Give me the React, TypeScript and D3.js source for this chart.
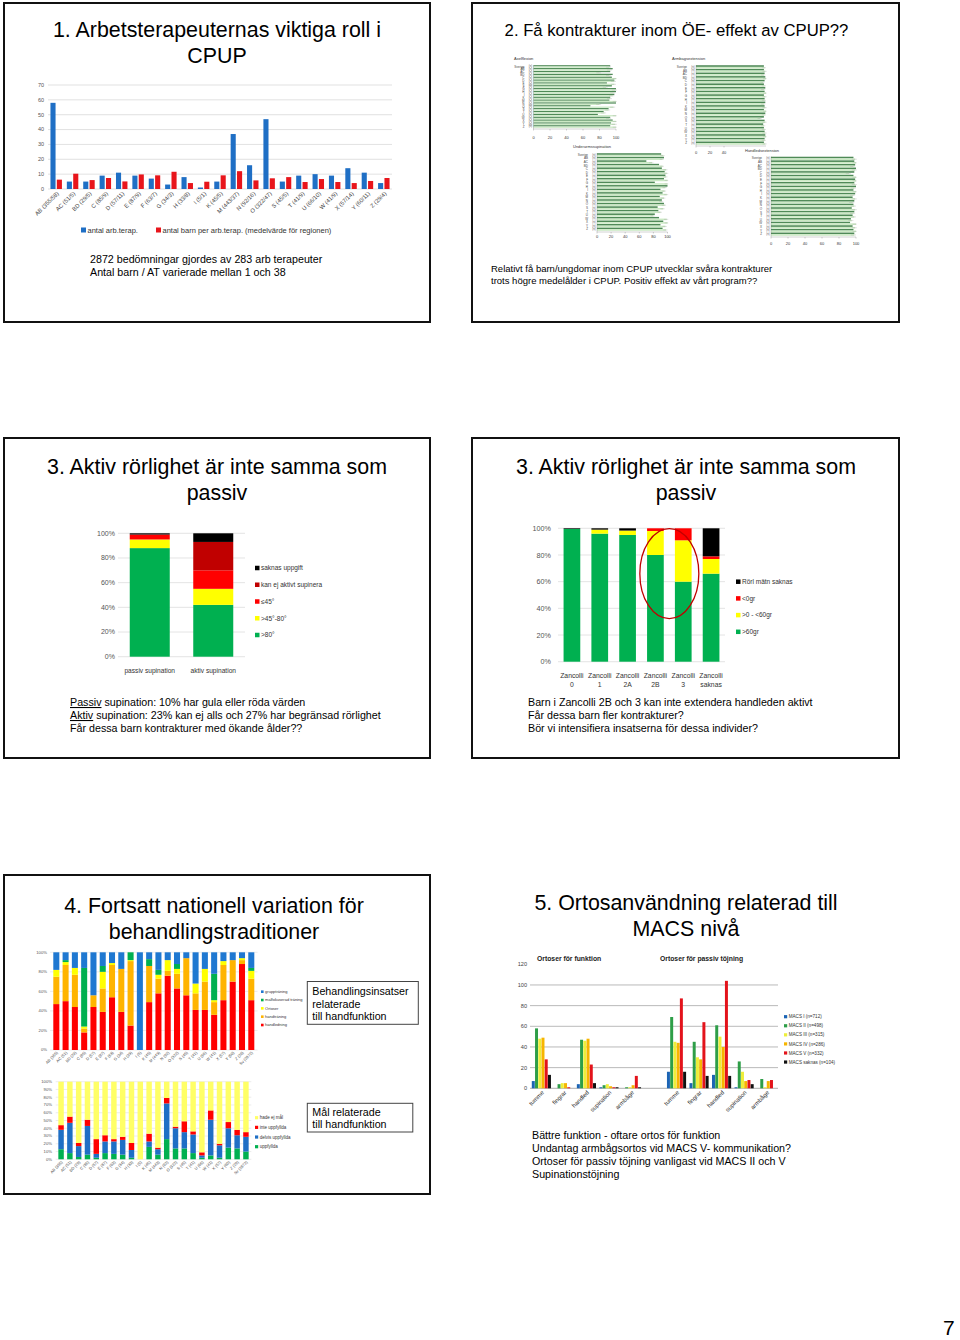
import React from "react";
import * as d3 from "d3";

const SANS = "'Liberation Sans', Arial, Helvetica, sans-serif";

// ---------------- Panel 1 data ----------------
const p1Regions = ["AB (355/58)", "AC (51/5)", "BD (29/5)", "C (85/9)", "D (57/11)", "E (87/9)", "F (63/7)", "G (34/3)", "H (33/8)", "I (5/1)", "K (45/5)", "M (443/37)", "N (92/16)", "O (322/47)", "S (45/5)", "T (41/9)", "U (66/10)", "W (41/9)", "X (57/14)", "Y (60/11)", "Z (29/4)"];
const p1Therapists = [58, 5, 5, 9, 11, 9, 7, 3, 8, 1, 5, 37, 16, 47, 5, 9, 10, 9, 14, 11, 4];
const p1ChildrenPerTherapist = [6.3, 10.3, 6, 7.4, 5.1, 9.8, 9.2, 11.6, 4, 4.9, 9.2, 12, 5.8, 7.2, 8, 4.7, 6.7, 4.7, 4, 5.4, 7.4];
const p1Ticks = [0, 10, 20, 30, 40, 50, 60, 70];
const p1SeriesNames = ["antal arb.terap.", "antal barn per arb.terap. (medelvärde för regionen)"];
const p1Colors = ["#1F6FC5", "#E8151B"];

// ---------------- Panel 2 data ----------------
const p2Rows = ["Sverige", "AB", "AC", "BD", "C", "D", "E", "F", "G", "H", "I", "K", "M", "N", "O", "S", "T", "U", "W", "X", "Y", "Z"];
const p2Ticks = [0, 20, 40, 60, 80, 100];
const p2ArmbTicks = [0, 20, 40];
const p2AxelDark = [93, 96, 93, 96, 95, 98, 89, 95, 100, 100, 98, 93, 92, 100, 69, 91, 85, 78, 93, 96, 94, 93];
const p2AxelLight = [92, 93, 80, 92, 100, 98, 98, 88, 99, 97, 96, 93, 100, 80, 97, 91, 86, 100, 92, 100, 99, 100];
const p2ArmbDark = [97, 97, 98, 99, 98, 97, 99, 98, 97, 98, 99, 98, 97, 99, 97, 98, 96, 97, 98, 99, 98, 97];
const p2ArmbLight = [98, 99, 97, 100, 96, 98, 97, 100, 99, 98, 97, 99, 100, 98, 92, 99, 97, 98, 99, 100, 98, 99];
const p2SupDark = [91, 95, 70, 88, 92, 96, 97, 95, 82, 100, 90, 93, 89, 92, 95, 86, 87, 82, 88, 94, 90, 93];
const p2SupLight = [94, 93, 78, 93, 98, 99, 98, 100, 100, 97, 96, 99, 95, 92, 96, 94, 90, 80, 99, 100, 97, 98];
const p2HandDark = [97, 98, 99, 100, 98, 97, 99, 98, 100, 97, 99, 96, 98, 97, 95, 98, 96, 94, 93, 96, 97, 98];
const p2HandLight = [99, 100, 97, 99, 92, 100, 100, 99, 98, 100, 97, 99, 96, 98, 99, 97, 98, 95, 100, 99, 100, 98];
const p2Colors = ["#4F8A57", "#CBE9C4"];

// ---------------- Panel 3 (left) data ----------------
const p3lCats = ["passiv supination", "aktiv supination"];
const p3lOver80 = [88, 42];
const p3l45to80 = [7, 13];
const p3lUnder45 = [4, 15];
const p3lKanEj = [0, 23];
const p3lSaknas = [1, 7];
const p3lLegend = ["saknas uppgift", "kan ej aktivt supinera", "≤45°", ">45°-80°", ">80°"];
const p3lColors = ["#00B050", "#FFFF00", "#FF0000", "#C00000", "#000000"];
const pctTicks20 = [0, 20, 40, 60, 80, 100];

// ---------------- Panel 3 (right) data ----------------
const p3rCats = ["Zancolli 0", "Zancolli 1", "Zancolli 2A", "Zancolli 2B", "Zancolli 3", "Zancolli saknas"];
const p3rOver60 = [99.5, 96, 95, 80, 60, 66];
const p3r0to60 = [0, 3, 3.3, 18, 31, 11];
const p3rUnder0 = [0, 0, 0, 2, 9, 2];
const p3rSaknas = [0.5, 1, 1.7, 0, 0, 21];
const p3rLegend = ["Rörl mätn saknas", "<0gr", ">0 - <60gr", ">60gr"];
const p3rColors = ["#00B050", "#FFFF00", "#FF0000", "#000000"];

// ---------------- Panel 4 data ----------------
const p4Regions = ["AB (355)", "AC (51)", "BD (29)", "C (85)", "D (57)", "E (87)", "F (63)", "G (34)", "H (33)", "I (5)", "K (45)", "M (443)", "N (92)", "O (322)", "S (45)", "T (41)", "U (66)", "W (41)", "X (57)", "Y (60)", "Z (29)", "Sv (2872)"];
const p4Handledning = [47, 50, 44, 18, 44, 39, 54, 39, 25, 0, 49, 58, 76, 63, 56, 41, 41, 36, 51, 70, 88, 51];
const p4Handtraning = [28, 37, 33, 4, 12, 24, 33, 44, 66, 0, 37, 15, 5, 15, 38, 17, 29, 13, 36, 22, 4, 22];
const p4Ortoser = [7, 3, 7, 2, 0, 17, 2, 0, 1, 0, 0, 4, 11, 5, 0, 10, 13, 2, 4, 0, 2, 8];
const p4Malfokus = [0, 2, 0, 60, 0, 6, 0, 0, 8, 0, 7, 5, 0, 5, 0, 0, 0, 27, 0, 0, 0, 3];
const p4Grupp = [18, 8, 16, 16, 44, 14, 11, 17, 0, 100, 7, 18, 8, 12, 6, 32, 17, 22, 9, 8, 6, 16];
const p4TopLegend = ["gruppträning", "målfokuserad träning", "Ortoser", "handträning", "handledning"];
const p4TopColors = ["#FF0000", "#FFB400", "#FFFF00", "#00B050", "#1F78D1"];

const p4Uppfyllda = [13, 8, 3, 6, 2, 8, 7, 6, 2, 0, 16, 6, 26, 14, 14, 8, 2, 5, 2, 15, 14, 10];
const p4Delvis = [25, 39, 14, 37, 5, 15, 16, 19, 10, 0, 7, 7, 46, 26, 21, 24, 3, 46, 16, 25, 17, 19];
const p4Inte = [6, 8, 4, 8, 19, 8, 3, 4, 9, 0, 10, 2, 7, 2, 14, 4, 4, 12, 2, 8, 7, 6];
const p4EjMal = [56, 45, 79, 49, 74, 69, 74, 71, 79, 100, 67, 85, 21, 58, 51, 64, 91, 37, 80, 52, 62, 65];
const p4BotLegend = ["hade ej mål", "inte uppfyllda", "delvis uppfyllda", "uppfyllda"];
const p4BotColors = ["#00B050", "#1F6FC5", "#FF0000", "#FFFF66"];
const pctTicks10 = [0, 10, 20, 30, 40, 50, 60, 70, 80, 90, 100];

// ---------------- Panel 5 data ----------------
const p5Types = ["tumme", "fingrar", "handled", "supination", "armbåge"];
const p5Groups = ["Ortoser för funktion", "Ortoser för passiv töjning"];
const p5Levels = ["MACS I (n=712)", "MACS II (n=498)", "MACS III (n=315)", "MACS IV (n=286)", "MACS V (n=332)", "MACS saknas (n=104)"];
// first 5 = funktion, last 5 = passiv töjning
const p5MacsI = [7, 0, 4, 1, 0, 16, 5, 13, 1, 0];
const p5MacsII = [58, 4, 47, 3, 1, 69, 45, 61, 26, 9];
const p5MacsIII = [48, 5, 46, 4, 1, 45, 30, 50, 16, 1];
const p5MacsIV = [49, 5, 48, 2, 3, 44, 28, 40, 7, 7];
const p5MacsV = [28, 1, 23, 1, 12, 87, 64, 104, 8, 8];
const p5MacsSaknas = [13, 0, 5, 1, 1, 16, 12, 12, 4, 0];
const p5Ticks = [0, 20, 40, 60, 80, 100, 120];
const p5Colors = ["#1C64B4", "#2E9E48", "#EEEE3A", "#F7B500", "#E3131B", "#111111"];

// ---------------- helpers ----------------
type StackProps = {
  cats: string[];
  series: number[][];
  colors: string[];
  x0: number; x1: number; yTop: number; yBot: number;
  padInner: number; padOuter: number;
  ticks: number[]; tickX: number; tickFont: number;
  grid?: string;
};

function StackedPct(p: StackProps) {
  const x = d3.scaleBand<string>().domain(p.cats).range([p.x0, p.x1]).paddingInner(p.padInner).paddingOuter(p.padOuter);
  const y = d3.scaleLinear().domain([0, 100]).range([p.yBot, p.yTop]);
  const keys = p.series.map((_, k) => "k" + k);
  const rows = p.cats.map((c, i) => {
    const o: any = { cat: c };
    p.series.forEach((s, k) => (o["k" + k] = s[i]));
    return o;
  });
  const layers = d3.stack<any>().keys(keys)(rows);
  return (
    <g>
      {p.grid && p.ticks.map((t) => (
        <line key={"g" + t} x1={p.x0} x2={p.x1} y1={y(t)} y2={y(t)} stroke={p.grid} strokeWidth={0.7} />
      ))}
      {layers.map((layer, k) =>
        layer.map((d, i) => (
          <rect key={k + "-" + i} x={x(p.cats[i])} width={x.bandwidth()} y={y(d[1])}
            height={Math.max(0, y(d[0]) - y(d[1]))} fill={p.colors[k]} />
        ))
      )}
      {p.ticks.map((t) => (
        <text key={"t" + t} x={p.tickX} y={y(t)} dy="0.35em" textAnchor="end" fontSize={p.tickFont} fill="#555">{t}%</text>
      ))}
    </g>
  );
}

function Legend({ items, colors, x, y0, step, size, font }: { items: string[]; colors: string[]; x: number; y0: number; step: number; size: number; font: number }) {
  return (
    <g>
      {items.map((it, i) => (
        <g key={it}>
          <rect x={x} y={y0 + i * step - size / 2} width={size} height={size} fill={colors[i]} />
          <text x={x + size + 1.5} y={y0 + i * step} dy="0.35em" fontSize={font} fill="#333">{it}</text>
        </g>
      ))}
    </g>
  );
}

// ---------------- Panel 1 ----------------
function Panel1() {
  const x = d3.scaleBand<string>().domain(p1Regions).range([48, 392]).paddingInner(0.3).paddingOuter(0.15);
  const sub = d3.scaleBand<number>().domain([0, 1]).range([0, x.bandwidth()]).paddingInner(0.2);
  const y = d3.scaleLinear().domain([0, 70]).range([189, 85]);
  const series = [p1Therapists, p1ChildrenPerTherapist];
  return (
    <g>
      <text x={217} y={37} textAnchor="middle" fontSize={21.4}>1. Arbetsterapeuternas viktiga roll i</text>
      <text x={217} y={63} textAnchor="middle" fontSize={21.4}>CPUP</text>
      {p1Ticks.map((t) => (
        <g key={t}>
          <line x1={48} x2={392} y1={y(t)} y2={y(t)} stroke="#D9D9D9" strokeWidth={0.8} />
          <text x={44} y={y(t)} dy="0.35em" textAnchor="end" fontSize={5.5} fill="#555">{t}</text>
        </g>
      ))}
      {series.map((s, k) =>
        s.map((v, i) => (
          <rect key={k + "-" + i} x={(x(p1Regions[i]) as number) + (sub(k) as number)} width={sub.bandwidth()}
            y={y(v)} height={y(0) - y(v)} fill={p1Colors[k]} />
        ))
      )}
      {p1Regions.map((r) => (
        <text key={r} transform={`translate(${(x(r) as number) + x.bandwidth() / 2 + 3},${194}) rotate(-45)`}
          textAnchor="end" fontSize={5.8} fill="#444">{r}</text>
      ))}
      <rect x={81} y={227.5} width={5} height={5} fill={p1Colors[0]} />
      <text x={87.5} y={232.5} fontSize={7.5} fill="#333">{p1SeriesNames[0]}</text>
      <rect x={156} y={227.5} width={5} height={5} fill={p1Colors[1]} />
      <text x={162.5} y={232.5} fontSize={7.5} fill="#333">{p1SeriesNames[1]}</text>
      <text x={90} y={263} fontSize={10.7}>2872 bedömningar gjordes av 283 arb terapeuter</text>
      <text x={90} y={276} fontSize={10.7}>Antal barn / AT varierade mellan 1 och 38</text>
    </g>
  );
}

// ---------------- Panel 2 ----------------
function MiniHBar({ title, dark, light, x0, x1, y0, y1, ticks, titleX, titleY, axisY }: any) {
  const y = d3.scaleBand<string>().domain(p2Rows).range([y0, y1]).padding(0.04);
  const sub = d3.scaleBand<number>().domain([0, 1]).range([0, y.bandwidth()]).padding(0.05);
  const x = d3.scaleLinear().domain([0, 100]).range([x0, x1]);
  const vals = [dark, light];
  return (
    <g>
      <text x={titleX} y={titleY} fontSize={4} fill="#333">{title}</text>
      {vals.map((s: number[], k: number) =>
        s.map((v, i) => (
          <rect key={k + "-" + i} x={x(0)} y={(y(p2Rows[i]) as number) + (sub(k) as number)} width={x(v) - x(0)}
            height={sub.bandwidth()} fill={p2Colors[k]} />
        ))
      )}
      {light.map((v: number, i: number) => (
        <line key={"e" + i} x1={x(Math.max(0, v - 4))} x2={x(Math.min(101, v + 2))}
          y1={(y(p2Rows[i]) as number) + (sub(1) as number) + sub.bandwidth() / 2}
          y2={(y(p2Rows[i]) as number) + (sub(1) as number) + sub.bandwidth() / 2} stroke="#999" strokeWidth={0.3} />
      ))}
      {p2Rows.map((r) => (
        <g key={r}>
          <text x={x0 - 9} y={(y(r) as number) + y.bandwidth() / 2} dy="0.35em" textAnchor="end" fontSize={3} fill="#444">{r}</text>
          <text x={x0 - 1.5} y={(y(r) as number) + y.bandwidth() / 2} dy="0.35em" textAnchor="end" fontSize={2.6} fill="#444">(n)</text>
        </g>
      ))}
      <line x1={x0} x2={x1} y1={y1 + 1} y2={y1 + 1} stroke="#666" strokeWidth={0.3} />
      <line x1={x0} x2={x0} y1={y0} y2={y1 + 1} stroke="#666" strokeWidth={0.3} />
      {ticks.map((t: number) => (
        <g key={t}>
          <line x1={x(t)} x2={x(t)} y1={y1 + 1} y2={y1 + 2.5} stroke="#666" strokeWidth={0.3} />
          <text x={x(t)} y={axisY} textAnchor="middle" fontSize={4} fill="#333">{t}</text>
        </g>
      ))}
    </g>
  );
}

function Panel2() {
  return (
    <g>
      <text x={676.5} y={35.5} textAnchor="middle" fontSize={16.7}>2. Få kontrakturer inom ÖE- effekt av CPUP??</text>
      <MiniHBar title={"Axelflexion"} dark={p2AxelDark} light={p2AxelLight} x0={533.5} x1={616} y0={65} y1={128}
        ticks={p2Ticks} titleX={514} titleY={60} axisY={139} />
      <MiniHBar title={"Armbågsextension"} dark={p2ArmbDark} light={p2ArmbLight} x0={696} x1={766} y0={65} y1={145}
        ticks={p2ArmbTicks} titleX={672} titleY={60} axisY={154} />
      <MiniHBar title={"Underarmssupination"} dark={p2SupDark} light={p2SupLight} x0={597} x1={667.5} y0={153} y1={231}
        ticks={p2Ticks} titleX={573} titleY={148} axisY={238} />
      <MiniHBar title={"Handledsextension"} dark={p2HandDark} light={p2HandLight} x0={771} x1={856} y0={156.5} y1={236}
        ticks={p2Ticks} titleX={745} titleY={152} axisY={245} />
      <text x={491} y={271.5} fontSize={9.5}>Relativt få barn/ungdomar  inom CPUP utvecklar  svåra kontrakturer</text>
      <text x={491} y={283.5} fontSize={9.5}>trots högre medelålder  i CPUP. Positiv effekt av vårt program??</text>
    </g>
  );
}

// ---------------- Panel 3 left ----------------
function Panel3L() {
  const x = d3.scaleBand<string>().domain(p3lCats).range([118, 245]).paddingInner(0.37).paddingOuter(0.185);
  return (
    <g>
      <text x={217} y={474} textAnchor="middle" fontSize={21.4}>3. Aktiv rörlighet är inte samma som</text>
      <text x={217} y={499.5} textAnchor="middle" fontSize={21.4}>passiv</text>
      <StackedPct cats={p3lCats} series={[p3lOver80, p3l45to80, p3lUnder45, p3lKanEj, p3lSaknas]} colors={p3lColors}
        x0={118} x1={245} yTop={533.3} yBot={656.7} padInner={0.37} padOuter={0.185}
        ticks={pctTicks20} tickX={115} tickFont={7} grid="#D9D9D9" />
      {p3lCats.map((c) => (
        <text key={c} x={(x(c) as number) + x.bandwidth() / 2} y={673} textAnchor="middle" fontSize={6.6} fill="#333">{c}</text>
      ))}
      <Legend items={p3lLegend} colors={[...p3lColors].reverse()} x={255} y0={568} step={16.75} size={4.5} font={6.5} />
      <text x={70} y={706} fontSize={10.7}><tspan textDecoration="underline">Passiv</tspan> supination: 10% har gula eller röda värden</text>
      <text x={70} y={719} fontSize={10.7}><tspan textDecoration="underline">Aktiv</tspan> supination: 23% kan ej alls och 27% har begränsad rörlighet</text>
      <text x={70} y={732} fontSize={10.7}>Får dessa barn kontrakturer med ökande ålder??</text>
    </g>
  );
}

// ---------------- Panel 3 right ----------------
function Panel3R() {
  const x = d3.scaleBand<string>().domain(p3rCats).range([558, 725]).paddingInner(0.4).paddingOuter(0.2);
  const y = d3.scaleLinear().domain([0, 100]).range([661.7, 528.3]);
  const c2B = (x("Zancolli 2B") as number) + x.bandwidth() / 2;
  const c3 = (x("Zancolli 3") as number) + x.bandwidth() / 2;
  return (
    <g>
      <text x={686} y={474} textAnchor="middle" fontSize={21.4}>3. Aktiv rörlighet är inte samma som</text>
      <text x={686} y={499.5} textAnchor="middle" fontSize={21.4}>passiv</text>
      <StackedPct cats={p3rCats} series={[p3rOver60, p3r0to60, p3rUnder0, p3rSaknas]} colors={p3rColors}
        x0={558} x1={725} yTop={528.3} yBot={661.7} padInner={0.4} padOuter={0.2}
        ticks={pctTicks20} tickX={551} tickFont={7.2} grid="#D9D9D9" />
      {p3rCats.map((c) => {
        const [a, b] = c.split(" ");
        const cx = (x(c) as number) + x.bandwidth() / 2;
        return (
          <g key={c}>
            <text x={cx} y={678} textAnchor="middle" fontSize={6.8} fill="#333">{a}</text>
            <text x={cx} y={687} textAnchor="middle" fontSize={6.8} fill="#333">{b}</text>
          </g>
        );
      })}
      <ellipse cx={(c2B + c3) / 2} cy={y(66)} rx={29.5} ry={45} fill="none" stroke="#C00000" strokeWidth={1.3} />
      <Legend items={p3rLegend} colors={[...p3rColors].reverse()} x={736} y0={581.7} step={16.7} size={4.5} font={6.5} />
      <text x={528} y={706} fontSize={10.7}>Barn i Zancolli 2B och 3 kan inte extendera handleden aktivt</text>
      <text x={528} y={719} fontSize={10.7}>Får dessa barn fler kontrakturer?</text>
      <text x={528} y={732} fontSize={10.7}>Bör vi intensifiera insatserna för dessa individer?</text>
    </g>
  );
}

// ---------------- Panel 4 ----------------
function Panel4() {
  const xt = d3.scaleBand<string>().domain(p4Regions).range([50, 257.6]).paddingInner(0.35).paddingOuter(0.355);
  const xb = d3.scaleBand<string>().domain(p4Regions).range([55.7, 251.3]).paddingInner(0.38).paddingOuter(0.3);
  return (
    <g>
      <text x={214} y={913} textAnchor="middle" fontSize={21.4}>4. Fortsatt nationell variation för</text>
      <text x={214} y={939} textAnchor="middle" fontSize={21.4}>behandlingstraditioner</text>
      <StackedPct cats={p4Regions} series={[p4Handledning, p4Handtraning, p4Ortoser, p4Malfokus, p4Grupp]} colors={p4TopColors}
        x0={50} x1={257.6} yTop={952.3} yBot={1050} padInner={0.35} padOuter={0.355}
        ticks={pctTicks20} tickX={47} tickFont={4.2} grid="#E4E4E4" />
      {p4Regions.map((r) => (
        <text key={"t" + r} transform={`translate(${(xt(r) as number) + xt.bandwidth() / 2 + 2},${1053}) rotate(-45)`}
          textAnchor="end" fontSize={4} fill="#444">{r}</text>
      ))}
      <Legend items={p4TopLegend} colors={[...p4TopColors].reverse()} x={261} y0={991.7} step={8.33} size={2.6} font={4} />

      <StackedPct cats={p4Regions} series={[p4Uppfyllda, p4Delvis, p4Inte, p4EjMal]} colors={p4BotColors}
        x0={55.7} x1={251.3} yTop={1081.7} yBot={1159.3} padInner={0.38} padOuter={0.3}
        ticks={pctTicks10} tickX={52} tickFont={4.2} grid="#E4E4E4" />
      {p4Regions.map((r) => (
        <text key={"b" + r} transform={`translate(${(xb(r) as number) + xb.bandwidth() / 2 + 2},${1162.5}) rotate(-45)`}
          textAnchor="end" fontSize={4} fill="#444">{r}</text>
      ))}
      <Legend items={p4BotLegend} colors={[...p4BotColors].reverse()} x={255} y0={1117.7} step={9.67} size={3.2} font={4.5} />

      <rect x={307.3} y={981.5} width={111} height={42.8} fill="#fff" stroke="#444" strokeWidth={1} />
      <text x={312.3} y={995} fontSize={10.7}>Behandlingsinsatser</text>
      <text x={312.3} y={1007.5} fontSize={10.7}>relaterade</text>
      <text x={312.3} y={1020} fontSize={10.7}>till handfunktion</text>
      <rect x={307.3} y={1103.3} width={105.5} height={28.7} fill="#fff" stroke="#444" strokeWidth={1} />
      <text x={312.3} y={1115.5} fontSize={10.7}>Mål relaterade</text>
      <text x={312.3} y={1128} fontSize={10.7}>till handfunktion</text>
    </g>
  );
}

// ---------------- Panel 5 ----------------
function Panel5() {
  const slots = [...p5Types.map((t) => "f-" + t), "gap", ...p5Types.map((t) => "p-" + t)];
  const x = d3.scaleBand<string>().domain(slots).range([530, 778]).paddingInner(0.15).paddingOuter(0.08);
  const sub = d3.scaleBand<number>().domain(d3.range(p5Levels.length)).range([0, x.bandwidth()]).paddingInner(0.08);
  const y = d3.scaleLinear().domain([0, 120]).range([1088.3, 964.3]);
  const levels = [p5MacsI, p5MacsII, p5MacsIII, p5MacsIV, p5MacsV, p5MacsSaknas];
  const slotOf = (i: number) => (i < 5 ? "f-" + p5Types[i] : "p-" + p5Types[i - 5]);
  return (
    <g>
      <text x={686} y={910} textAnchor="middle" fontSize={21.4}>5. Ortosanvändning relaterad till</text>
      <text x={686} y={936} textAnchor="middle" fontSize={21.4}>MACS nivå</text>
      {p5Ticks.map((t) => (
        <g key={t}>
          {t > 0 && t < 120 && <line x1={530} x2={778} y1={y(t)} y2={y(t)} stroke="#8C8C8C" strokeWidth={0.6} />}
          <text x={527} y={y(t)} dy="0.35em" textAnchor="end" fontSize={5.6} fill="#444">{t}</text>
        </g>
      ))}
      <line x1={530} x2={778} y1={y(0)} y2={y(0)} stroke="#8C8C8C" strokeWidth={0.7} />
      {levels.map((s, k) =>
        s.map((v, i) => (
          <rect key={k + "-" + i} x={(x(slotOf(i)) as number) + (sub(k) as number)} width={sub.bandwidth()}
            y={y(v)} height={y(0) - y(v)} fill={p5Colors[k]} />
        ))
      )}
      {slots.filter((s) => s !== "gap").map((s) => (
        <text key={s} transform={`translate(${(x(s) as number) + x.bandwidth() / 2 + 3},${1093}) rotate(-45)`}
          textAnchor="end" fontSize={6} fill="#333">{s.slice(2)}</text>
      ))}
      <text x={537} y={961} fontSize={6.8} fontWeight="bold" fill="#222">{p5Groups[0]}</text>
      <text x={660} y={961} fontSize={6.8} fontWeight="bold" fill="#222">{p5Groups[1]}</text>
      <Legend items={p5Levels} colors={p5Colors} x={784} y0={1016.7} step={9.07} size={3.2} font={4.6} />
      <text x={532} y={1139} fontSize={10.7}>Bättre funktion - oftare ortos för funktion</text>
      <text x={532} y={1152} fontSize={10.7}>Undantag armbågsortos vid MACS V- kommunikation?</text>
      <text x={532} y={1165} fontSize={10.7}>Ortoser för passiv töjning vanligast vid MACS II och V</text>
      <text x={532} y={1178} fontSize={10.7}>Supinationstöjning</text>
    </g>
  );
}

const frames = [
  [4, 3, 426, 319],
  [472, 3, 427, 319],
  [4, 438, 426, 320],
  [472, 438, 427, 320],
  [4, 875, 426, 319],
];

export default function App() {
  return (
    <svg width={960} height={1340} style={{ position: "absolute", left: 0, top: 0 }} fontFamily={SANS}>
      <rect width={960} height={1340} fill="#fff" />
      {frames.map((f, i) => (
        <rect key={i} x={f[0]} y={f[1]} width={f[2]} height={f[3]} fill="none" stroke="#111" strokeWidth={2} />
      ))}
      <Panel1 />
      <Panel2 />
      <Panel3L />
      <Panel3R />
      <Panel4 />
      <Panel5 />
      <text x={943} y={1335} fontSize={21}>7</text>
    </svg>
  );
}
